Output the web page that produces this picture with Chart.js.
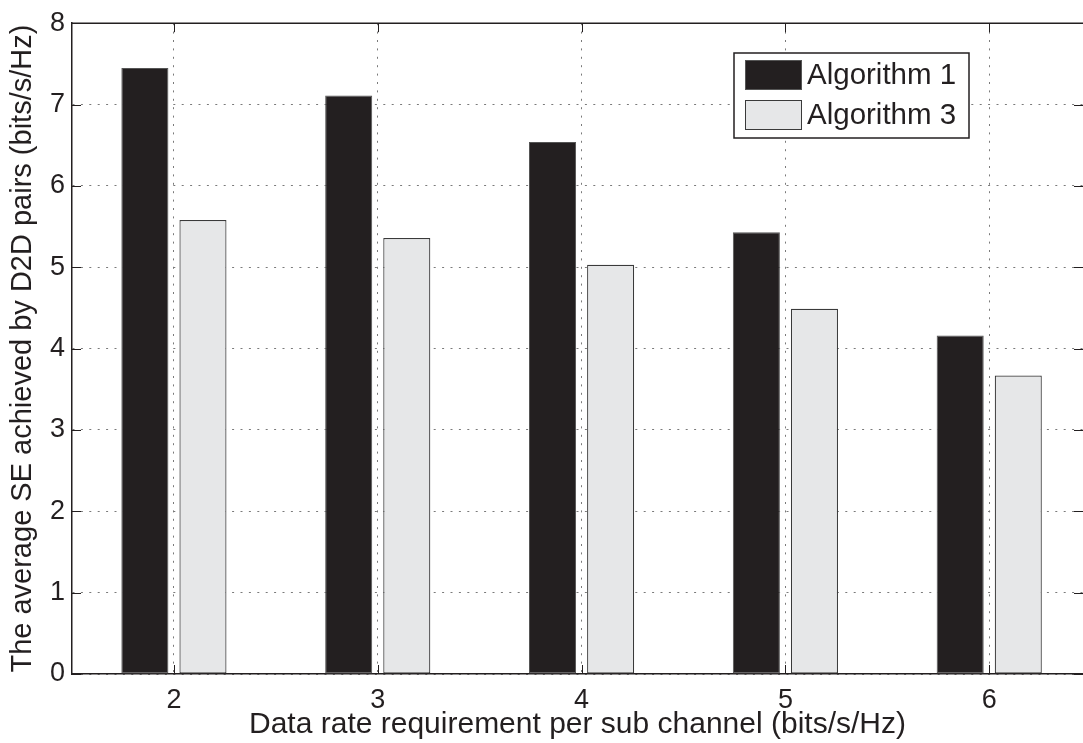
<!DOCTYPE html>
<html>
<head>
<meta charset="utf-8">
<script src="https://cdn.jsdelivr.net/npm/chart.js@4"></script>
<style>
  html, body { margin: 0; padding: 0; background: #fff; overflow: hidden; }
  canvas { display: block; }
</style>
</head>
<body>
<canvas id="seChart" width="1083" height="743"></canvas>
<script>
// data
const rates = [2, 3, 4, 5, 6];
const algorithm1 = [7.45, 7.11, 6.54, 5.43, 4.16];
const algorithm3 = [5.58, 5.36, 5.03, 4.49, 3.67];
const yTicks = [0, 1, 2, 3, 4, 5, 6, 7, 8];

const FONT = "'Liberation Sans', Arial, Helvetica, sans-serif";
const INK = '#231f20';

// MATLAB style frame: top line and inward tick marks
const framePlugin = {
    id: 'frame',
    afterDatasetsDraw(chart) {
        const { ctx, chartArea: a, scales } = chart;
        ctx.save();
        ctx.strokeStyle = INK;
        ctx.lineWidth = 1.5;
        ctx.beginPath();
        ctx.moveTo(a.left, a.top);
        ctx.lineTo(a.right, a.top);
        ctx.stroke();
        ctx.lineWidth = 1;
        ctx.beginPath();
        rates.forEach(v => {
            const x = Math.round(scales.x.getPixelForValue(v)) + 0.5;
            ctx.moveTo(x, a.bottom); ctx.lineTo(x, a.bottom - 9);
            ctx.moveTo(x, a.top); ctx.lineTo(x, a.top + 9);
        });
        yTicks.forEach(v => {
            const y = Math.round(scales.y.getPixelForValue(v)) + 0.5;
            ctx.moveTo(a.left, y); ctx.lineTo(a.left + 9, y);
            ctx.moveTo(a.right, y); ctx.lineTo(a.right - 9, y);
        });
        ctx.stroke();
        ctx.restore();
    }
};

// boxed legend inside the axes, upper right
const boxLegend = {
    id: 'boxLegend',
    afterDraw(chart) {
        const ctx = chart.ctx;
        const x0 = 734, y0 = 53, w = 235, h = 85;
        ctx.save();
        ctx.fillStyle = '#fff';
        ctx.fillRect(x0, y0, w, h);
        ctx.strokeStyle = INK;
        ctx.lineWidth = 1.5;
        ctx.strokeRect(x0, y0, w, h);
        ctx.font = '29.5px ' + FONT;
        ctx.textBaseline = 'middle';
        chart.data.datasets.forEach((ds, i) => {
            const sy = y0 + 7 + i * 40;
            ctx.fillStyle = ds.backgroundColor;
            ctx.fillRect(x0 + 11, sy, 57, 30);
            ctx.strokeStyle = ds.borderColor;
            ctx.lineWidth = 1;
            ctx.strokeRect(x0 + 11.5, sy + 0.5, 56, 29);
            ctx.fillStyle = INK;
            ctx.fillText(ds.label, x0 + 73, sy + 16);
        });
        ctx.restore();
    }
};

const ctx = document.getElementById('seChart').getContext('2d');

new Chart(ctx, {
    type: 'bar',
    data: {
        datasets: [
            {
                label: 'Algorithm 1',
                data: rates.map((r, i) => ({ x: r, y: algorithm1[i] })),
                backgroundColor: INK,
                borderColor: '#555',
                borderWidth: 1,
                borderSkipped: false
            },
            {
                label: 'Algorithm 3',
                data: rates.map((r, i) => ({ x: r, y: algorithm3[i] })),
                backgroundColor: '#e6e7e8',
                borderColor: '#3a3a3a',
                borderWidth: 1.2,
                borderSkipped: false
            }
        ]
    },
    options: {
        responsive: false,
        animation: false,
        categoryPercentage: 0.57,
        barPercentage: 0.81,
        layout: { padding: { top: 18, right: 0, left: 0, bottom: 0 } },
        plugins: {
            legend: { display: false },
            tooltip: { enabled: false }
        },
        scales: {
            x: {
                type: 'linear',
                offset: false,
                min: 1.5,
                max: 6.46,
                afterBuildTicks: scale => { scale.ticks = rates.map(v => ({ value: v })); },
                afterFit: scale => { scale.height = 69; },
                grid: { color: '#7a7a7a', lineWidth: 1, drawTicks: false, offset: false },
                border: { color: INK, width: 1.5, dash: [2, 6.4] },
                ticks: {
                    color: INK,
                    padding: 10,
                    maxRotation: 0,
                    font: { family: FONT, size: 27 }
                },
                title: {
                    display: true,
                    text: 'Data rate requirement per sub channel (bits/s/Hz)',
                    color: INK,
                    padding: { top: 0, bottom: 0 },
                    font: { family: FONT, size: 30 }
                }
            },
            y: {
                min: 0,
                max: 8,
                afterBuildTicks: scale => { scale.ticks = yTicks.map(v => ({ value: v })); },
                afterFit: scale => { scale.width = 72; },
                grid: { color: '#7a7a7a', lineWidth: 1, drawTicks: false },
                border: { color: INK, width: 1.5, dash: [2, 6.4] },
                ticks: {
                    color: INK,
                    padding: 7,
                    font: { family: FONT, size: 27 }
                },
                title: {
                    display: true,
                    text: 'The average SE achieved by D2D pairs (bits/s/Hz)',
                    color: INK,
                    padding: { top: 6, bottom: 0 },
                    font: { family: FONT, size: 29 }
                }
            }
        }
    },
    plugins: [framePlugin, boxLegend]
});
</script>
</body>
</html>
